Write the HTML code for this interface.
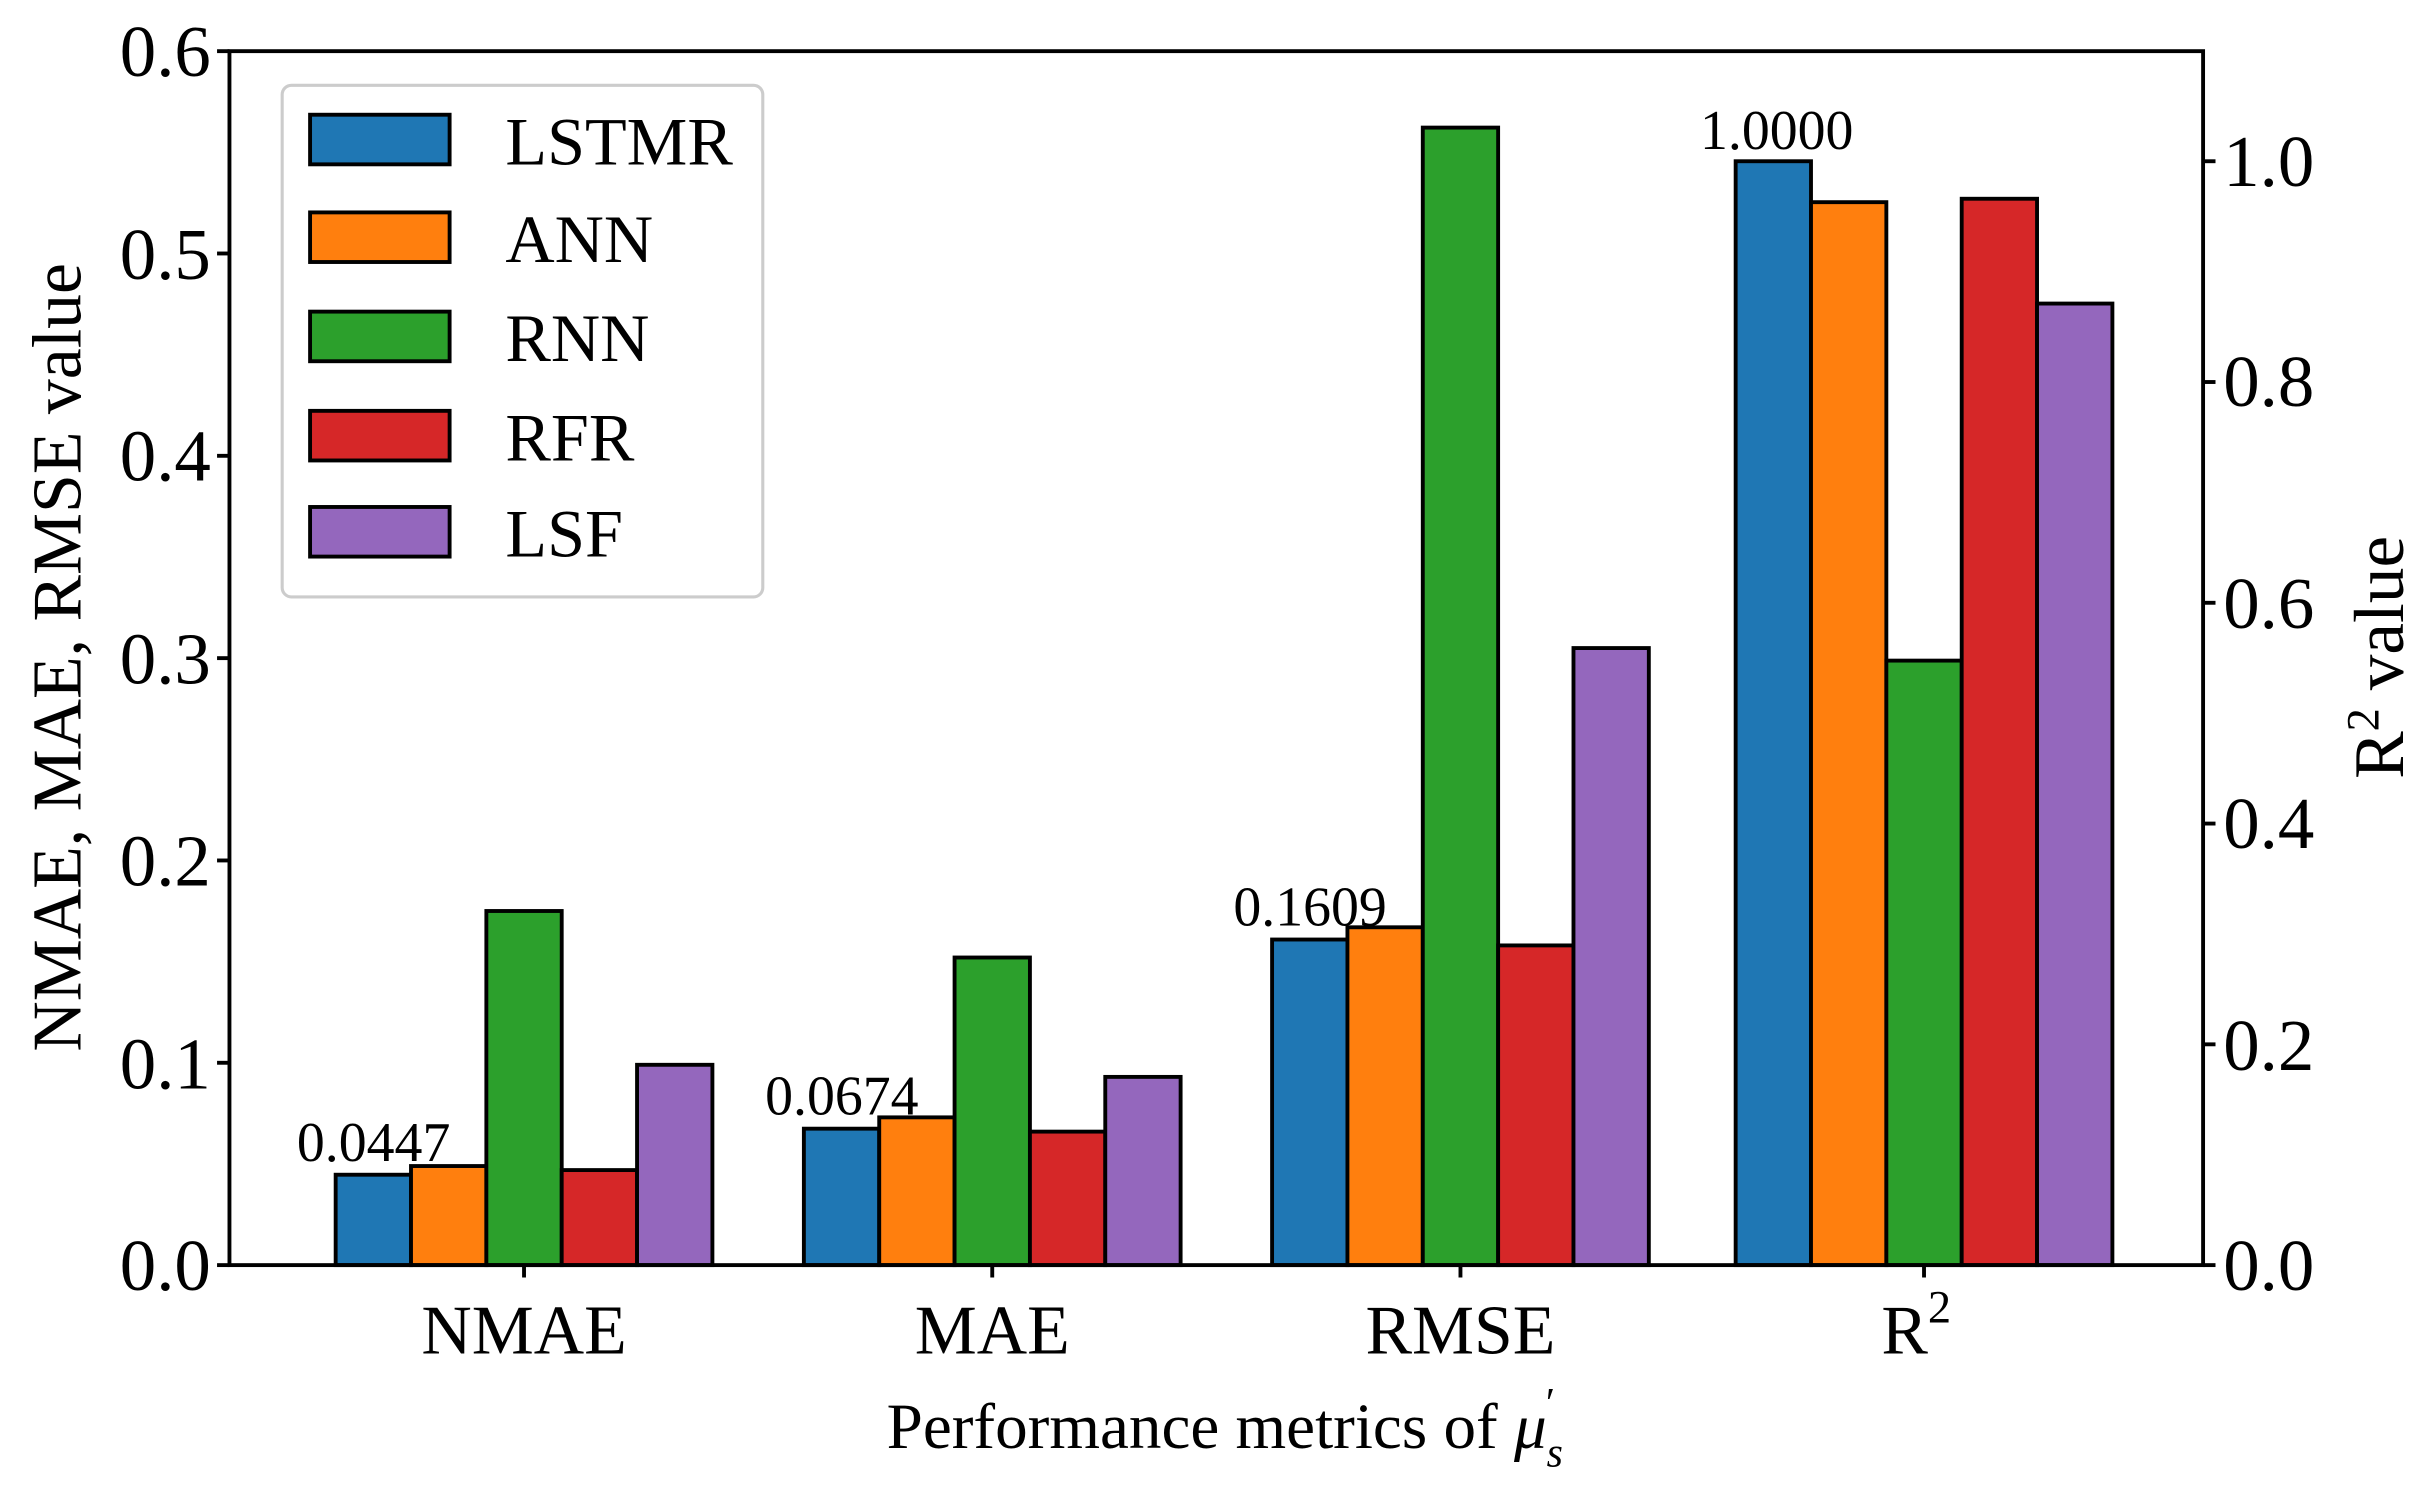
<!DOCTYPE html>
<html><head><meta charset="utf-8"><style>html,body{margin:0;padding:0;background:#fff}svg{display:block}</style></head>
<body>
<svg width="2431" height="1491" viewBox="0 0 1568 961.7" xmlns="http://www.w3.org/2000/svg" font-family="Liberation Serif, serif">
<g stroke="#000" stroke-width="2.5">
<rect x="216.5" y="757.7" width="48.6" height="58.3" fill="#1f77b4"/>
<rect x="265.1" y="752.1" width="48.6" height="63.9" fill="#ff7f0e"/>
<rect x="313.7" y="587.6" width="48.6" height="228.4" fill="#2ca02c"/>
<rect x="362.3" y="754.7" width="48.6" height="61.3" fill="#d62728"/>
<rect x="410.9" y="686.8" width="48.6" height="129.2" fill="#9467bd"/>
<rect x="518.5" y="728.0" width="48.6" height="88.0" fill="#1f77b4"/>
<rect x="567.1" y="720.7" width="48.6" height="95.3" fill="#ff7f0e"/>
<rect x="615.7" y="617.6" width="48.6" height="198.4" fill="#2ca02c"/>
<rect x="664.3" y="729.9" width="48.6" height="86.1" fill="#d62728"/>
<rect x="712.9" y="694.6" width="48.6" height="121.4" fill="#9467bd"/>
<rect x="820.5" y="606.0" width="48.6" height="210.0" fill="#1f77b4"/>
<rect x="869.1" y="598.1" width="48.6" height="217.9" fill="#ff7f0e"/>
<rect x="917.7" y="82.3" width="48.6" height="733.7" fill="#2ca02c"/>
<rect x="966.3" y="609.8" width="48.6" height="206.2" fill="#d62728"/>
<rect x="1014.9" y="418.0" width="48.6" height="398.0" fill="#9467bd"/>
<rect x="1119.5" y="104" width="48.6" height="712" fill="#1f77b4"/>
<rect x="1168.1" y="130.4" width="48.6" height="685.6" fill="#ff7f0e"/>
<rect x="1216.7" y="426.1" width="48.6" height="389.9" fill="#2ca02c"/>
<rect x="1265.3" y="128.2" width="48.6" height="687.8" fill="#d62728"/>
<rect x="1313.9" y="195.8" width="48.6" height="620.2" fill="#9467bd"/>
</g>
<rect x="148" y="33" width="1273" height="783" fill="none" stroke="#000" stroke-width="2.5"/>
<g stroke="#000" stroke-width="2.5">
<line x1="140" y1="816" x2="148" y2="816"/><line x1="140" y1="685.5" x2="148" y2="685.5"/><line x1="140" y1="555" x2="148" y2="555"/><line x1="140" y1="424.5" x2="148" y2="424.5"/><line x1="140" y1="294" x2="148" y2="294"/><line x1="140" y1="163.5" x2="148" y2="163.5"/><line x1="140" y1="33" x2="148" y2="33"/>
<line x1="1421" y1="816" x2="1429" y2="816"/><line x1="1421" y1="673.6" x2="1429" y2="673.6"/><line x1="1421" y1="531.2" x2="1429" y2="531.2"/><line x1="1421" y1="388.8" x2="1429" y2="388.8"/><line x1="1421" y1="246.4" x2="1429" y2="246.4"/><line x1="1421" y1="104" x2="1429" y2="104"/>
<line x1="338" y1="816" x2="338" y2="824"/><line x1="640" y1="816" x2="640" y2="824"/><line x1="942" y1="816" x2="942" y2="824"/><line x1="1241" y1="816" x2="1241" y2="824"/>
</g>
<g font-size="47" text-anchor="end">
<text x="136" y="832">0.0</text><text x="136" y="702">0.1</text><text x="136" y="571">0.2</text><text x="136" y="441">0.3</text><text x="136" y="310">0.4</text><text x="136" y="180">0.5</text><text x="136" y="49">0.6</text>
</g>
<g font-size="47" text-anchor="start">
<text x="1434" y="832">0.0</text><text x="1434" y="690">0.2</text><text x="1434" y="547">0.4</text><text x="1434" y="405">0.6</text><text x="1434" y="262">0.8</text><text x="1434" y="120">1.0</text>
</g>
<g font-size="45" text-anchor="middle">
<text x="338" y="873">NMAE</text><text x="640" y="873">MAE</text><text x="942" y="873">RMSE</text><text x="1236" y="873">R<tspan font-size="30" dy="-20">2</tspan></text>
</g>
<g font-size="36" text-anchor="middle">
<text x="241" y="749">0.0447</text><text x="543" y="719">0.0674</text><text x="845" y="597">0.1609</text><text x="1146" y="96">1.0000</text>
</g>
<text x="790" y="934" font-size="42" text-anchor="middle">Performance metrics of <tspan font-style="italic">μ</tspan><tspan font-size="27" font-style="italic" dy="12">s</tspan><tspan font-size="27" dx="-11" dy="-32">′</tspan></text>
<text transform="translate(52,424) rotate(-90)" font-size="45" text-anchor="middle">NMAE, MAE, RMSE value</text>
<text transform="translate(1550,424) rotate(-90)" font-size="46" text-anchor="middle">R<tspan font-size="30" dy="-16">2</tspan><tspan dy="16"> value</tspan></text>
<rect x="182" y="55" width="310" height="330" rx="6" fill="#fff" stroke="#ccc" stroke-width="2"/>
<g stroke="#000" stroke-width="2.5">
<rect x="200" y="74" width="90" height="32" fill="#1f77b4"/>
<rect x="200" y="137" width="90" height="32" fill="#ff7f0e"/>
<rect x="200" y="201" width="90" height="32" fill="#2ca02c"/>
<rect x="200" y="265" width="90" height="32" fill="#d62728"/>
<rect x="200" y="327" width="90" height="32" fill="#9467bd"/>
</g>
<g font-size="44">
<text x="326" y="106">LSTMR</text><text x="326" y="169">ANN</text><text x="326" y="233">RNN</text><text x="326" y="297">RFR</text><text x="326" y="359">LSF</text>
</g>
</svg>
</body></html>
